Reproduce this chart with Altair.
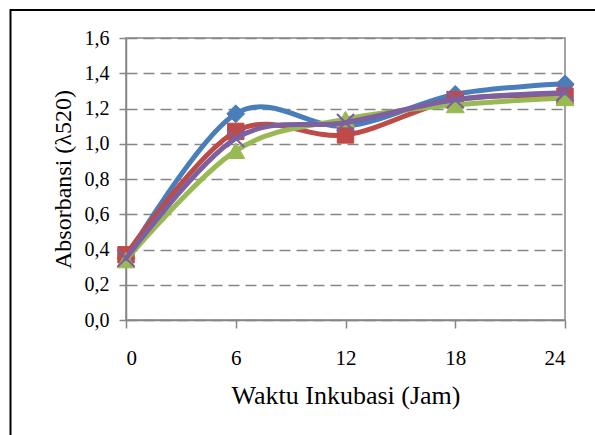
import altair as alt
import pandas as pd

# ---- data ----
hours = [0, 6, 12, 18, 24]
series_names = ["Seri 1", "Seri 2", "Seri 3", "Seri 4"]
seri1_blue = [0.35, 1.17, 1.10, 1.28, 1.34]
seri2_red = [0.37, 1.07, 1.05, 1.25, 1.27]
seri3_green = [0.34, 0.96, 1.14, 1.22, 1.26]
seri4_purple = [0.35, 1.03, 1.12, 1.25, 1.29]
x_ticks = [0, 6, 12, 18, 24]
y_ticks = [0.0, 0.2, 0.4, 0.6, 0.8, 1.0, 1.2, 1.4, 1.6]

colors = ["#4A7EBB", "#BE4B48", "#98B954", "#7D60A0"]
shapes = ["diamond", "square", "triangle-up", "M-1,-1L1,1M1,-1L-1,1"]
sizes = [320, 270, 320, 290]

values = [seri1_blue, seri2_red, seri3_green, seri4_purple]
rows = []
for name, vals in zip(series_names, values):
    for h, v in zip(hours, vals):
        rows.append({"jam": h, "absorbansi": v, "seri": name})
df = pd.DataFrame(rows)

GRAY = "#868686"
FONT = "Liberation Serif"

x_enc = alt.X(
    "jam:Q",
    scale=alt.Scale(domain=[0, 24], nice=False, zero=False),
    axis=alt.Axis(
        values=x_ticks, grid=False, title="Waktu Inkubasi (Jam)",
        tickSize=8, labelPadding=19, labelFontSize=21,
        titleX=219.5, titleY=83, titleAlign="center", titleBaseline="alphabetic",
        titleFontSize=26,
    ),
)
y_enc = alt.Y(
    "absorbansi:Q",
    scale=alt.Scale(domain=[0, 1.6], nice=False),
    axis=alt.Axis(
        values=y_ticks, grid=True, gridDash=[11, 6], gridColor=GRAY, gridWidth=1.5,
        title="Absorbansi (λ520)",
        labelExpr="replace(format(datum.value, '.1f'), '.', ',')",
        tickSize=7, labelPadding=10, labelFontSize=20,
        titleX=-56, titleY=141, titleAlign="center", titleBaseline="alphabetic",
        titleFontSize=24,
    ),
)

layers = []
border = alt.Chart(pd.DataFrame({"k": [0]})).mark_rect(
    fillOpacity=0, stroke="black", strokeWidth=2
).encode(
    x=alt.value(-115.5), x2=alt.value(480), y=alt.value(-28), y2=alt.value(410)
)
layers.append(border)

for name, col, shp, sz in zip(series_names, colors, shapes, sizes):
    base = alt.Chart(df).transform_filter(alt.datum.seri == name)
    line = base.mark_line(
        color=col, strokeWidth=5, interpolate="cardinal", strokeCap="round", strokeJoin="round"
    ).encode(x=x_enc, y=y_enc)
    if shp.startswith("M"):
        pts = base.mark_point(
            shape=shp, size=sz, filled=False, stroke=col, strokeWidth=2.2, opacity=1
        ).encode(x=x_enc, y=y_enc)
    else:
        pts = base.mark_point(
            shape=shp, size=sz, filled=True, fill=col, stroke=col, strokeWidth=1, opacity=1
        ).encode(x=x_enc, y=y_enc)
    layers += [line, pts]

chart = alt.layer(*layers).properties(
    width=439, height=282,
    autosize=alt.AutoSizeParams(type="none"),
    padding={"left": 126, "top": 38, "right": 30, "bottom": 115},
    background="white",
).configure_view(
    stroke=GRAY, strokeWidth=1.5
).configure_axis(
    domainColor=GRAY, domainWidth=1.5, tickColor=GRAY, tickWidth=1.5,
    labelFont=FONT, labelColor="black", titleFont=FONT, titleColor="black",
    titleFontWeight="normal",
)

chart.save("out.html", embed_options={"renderer": "svg", "actions": False})
